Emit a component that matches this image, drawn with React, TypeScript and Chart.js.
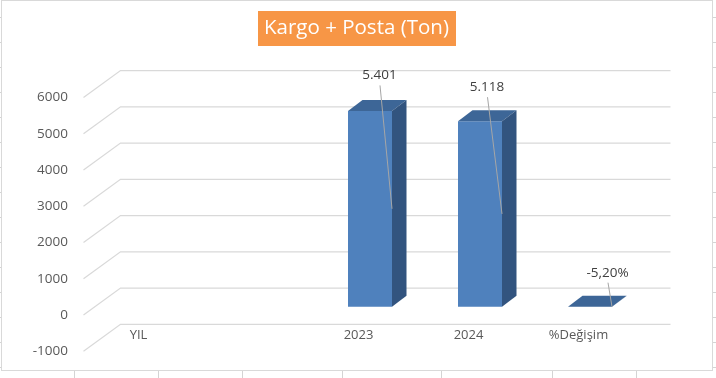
import { useEffect, useRef } from "react";
import { Chart, registerables } from "chart.js";

Chart.register(...registerables);

// ---- data ----
const categories = ["YIL", "", "2023", "2024", "%Değişim"];
const values: (number | null)[] = [null, null, 5401, 5118, -5.2];
const valueLabels = ["", "", "5.401", "5.118", "-5,20%"];
const yMin = -1000;
const yMax = 6000;
const yStep = 1000;
const titleText = "Kargo + Posta (Ton)";

// ---- style ----
const FONT = "'Open Sans', 'Noto Sans', sans-serif";
const FRONT_COLOR = "#4F81BD";
const TOP_COLOR = "#3D6697";
const SIDE_COLOR = "#32547F";
const GRID_COLOR = "#d9d9d9";
const TITLE_BG = "#F79646";
const FRONT_OFF = { dx: -11.5, dy: 8.4 };
const BACK_OFF = { dx: 25.5, dy: -18.6 };
const BAR_DEPTH = { dx: 14.5, dy: -10.8 };
const LABEL_OFF: ({ dx: number; dy: number } | null)[] = [
  null,
  null,
  { dx: 9.5, dy: -35.5 },
  { dx: 7, dy: -34 },
  { dx: 17.5, dy: -34 },
];

const sheetPlugin = {
  id: "sheet",
  beforeDraw(chart: any) {
    const ctx = chart.ctx as CanvasRenderingContext2D;
    ctx.save();
    ctx.fillStyle = "#ffffff";
    ctx.fillRect(0, 0, chart.width, chart.height);
    ctx.strokeStyle = "#d4d4d4";
    ctx.lineWidth = 1;
    for (let y = 17; y < 378; y += 25) {
      ctx.beginPath();
      ctx.moveTo(0, y + 0.5);
      ctx.lineTo(2, y + 0.5);
      ctx.moveTo(712, y + 0.5);
      ctx.lineTo(716, y + 0.5);
      ctx.stroke();
    }
    [74, 158, 242, 342, 441, 552, 636].forEach((x) => {
      ctx.beginPath();
      ctx.moveTo(x + 0.5, 371);
      ctx.lineTo(x + 0.5, 378);
      ctx.stroke();
    });
    ctx.strokeStyle = GRID_COLOR;
    ctx.strokeRect(1.5, 0.5, 711, 370);
    // title background box
    const tb = chart.titleBlock;
    if (tb) {
      const opts = tb.options;
      ctx.font = `${opts.font.size}px ${FONT}`;
      const w = ctx.measureText(titleText).width;
      const cx = (tb.left + tb.right) / 2;
      const cy = tb.top + opts.padding.top + (opts.font.size * 1.2) / 2;
      ctx.fillStyle = TITLE_BG;
      ctx.fillRect(Math.round(cx - w / 2 - 6.5), Math.round(cy - 17.5), Math.round(w + 13), 35);
    }
    ctx.restore();
  },
  beforeDatasetsDraw(chart: any) {
    const ctx = chart.ctx as CanvasRenderingContext2D;
    const ys = chart.scales.y;
    const { left, right } = chart.chartArea;
    ctx.save();
    ctx.strokeStyle = GRID_COLOR;
    ctx.lineWidth = 1.2;
    ys.ticks.forEach((t: any) => {
      const y = ys.getPixelForValue(t.value);
      ctx.beginPath();
      ctx.moveTo(left + FRONT_OFF.dx, y + FRONT_OFF.dy);
      ctx.lineTo(left + BACK_OFF.dx, y + BACK_OFF.dy);
      ctx.lineTo(right + BACK_OFF.dx, y + BACK_OFF.dy);
      ctx.stroke();
    });
    ctx.restore();
  },
  afterDatasetsDraw(chart: any) {
    const ctx = chart.ctx as CanvasRenderingContext2D;
    const meta = chart.getDatasetMeta(0);
    ctx.save();
    meta.data.forEach((el: any, i: number) => {
      if (values[i] === null) return;
      const w = el.width;
      const l = el.x - w / 2;
      const r = el.x + w / 2;
      const top = Math.min(el.y, el.base);
      const bottom = Math.max(el.y, el.base);
      const { dx, dy } = BAR_DEPTH;
      ctx.fillStyle = TOP_COLOR;
      ctx.beginPath();
      ctx.moveTo(l, top);
      ctx.lineTo(r, top);
      ctx.lineTo(r + dx, top + dy);
      ctx.lineTo(l + dx, top + dy);
      ctx.closePath();
      ctx.fill();
      ctx.fillStyle = SIDE_COLOR;
      ctx.beginPath();
      ctx.moveTo(r, top);
      ctx.lineTo(r + dx, top + dy);
      ctx.lineTo(r + dx, bottom + dy);
      ctx.lineTo(r, bottom);
      ctx.closePath();
      ctx.fill();
      const off = LABEL_OFF[i];
      if (off) {
        const lx = el.x + off.dx;
        const ly = top + off.dy;
        ctx.strokeStyle = "#a6a6a6";
        ctx.lineWidth = 1;
        ctx.beginPath();
        ctx.moveTo(lx + 0.5, ly + 10);
        ctx.lineTo(r, (top + bottom) / 2);
        ctx.stroke();
        ctx.fillStyle = "#404040";
        ctx.font = `13.5px ${FONT}`;
        ctx.textAlign = "center";
        ctx.textBaseline = "middle";
        ctx.fillText(valueLabels[i], lx, ly);
      }
    });
    ctx.restore();
  },
};

export default function App() {
  const ref = useRef<HTMLCanvasElement>(null);
  useEffect(() => {
    document.body.style.margin = "0";
    const chart = new Chart(ref.current!, {
      type: "bar",
      data: {
        labels: categories,
        datasets: [
          {
            data: values as any,
            backgroundColor: FRONT_COLOR,
            borderWidth: 0,
            barPercentage: 0.4,
            categoryPercentage: 1,
          },
        ],
      },
      options: {
        animation: false,
        responsive: false,
        devicePixelRatio: 1,
        layout: { padding: { left: 0, right: 3, top: 0, bottom: 0 } },
        plugins: {
          legend: { display: false },
          tooltip: { enabled: false },
          title: {
            display: true,
            text: titleText,
            color: "#ffffff",
            font: { family: FONT, size: 20.5, weight: "normal", lineHeight: 1.2 },
            padding: { top: 16.2, bottom: 48.4 },
          },
        },
        scales: {
          x: {
            grid: { display: false, drawTicks: false },
            border: { display: false },
            ticks: {
              color: "#595959",
              font: { family: FONT, size: 13 },
              labelOffset: -11.5,
              mirror: true,
              padding: 0,
              maxRotation: 0,
              autoSkip: false,
            },
            afterFit: (s: any) => {
              s.height = 34.7;
            },
          },
          y: {
            min: yMin,
            max: yMax,
            grid: { display: false, drawTicks: false },
            border: { display: false },
            ticks: {
              stepSize: yStep,
              color: "#595959",
              font: { family: FONT, size: 13.5 },
              labelOffset: 8.4,
              padding: 27,
              callback: (v: any) => String(v),
            },
            afterFit: (s: any) => {
              s.width = 95;
            },
          },
          y2: {
            type: "linear",
            position: "right",
            display: true,
            min: yMin,
            max: yMax,
            grid: { display: false, drawTicks: false },
            border: { display: false },
            ticks: { display: false },
            afterFit: (s: any) => {
              s.width = 68;
            },
          },
        },
      },
      plugins: [sheetPlugin],
    });
    return () => chart.destroy();
  }, []);
  return (
    <div style={{ position: "absolute", left: 0, top: 0, width: 716, height: 378 }}>
      <canvas ref={ref} width={716} height={378} style={{ display: "block" }} />
    </div>
  );
}
